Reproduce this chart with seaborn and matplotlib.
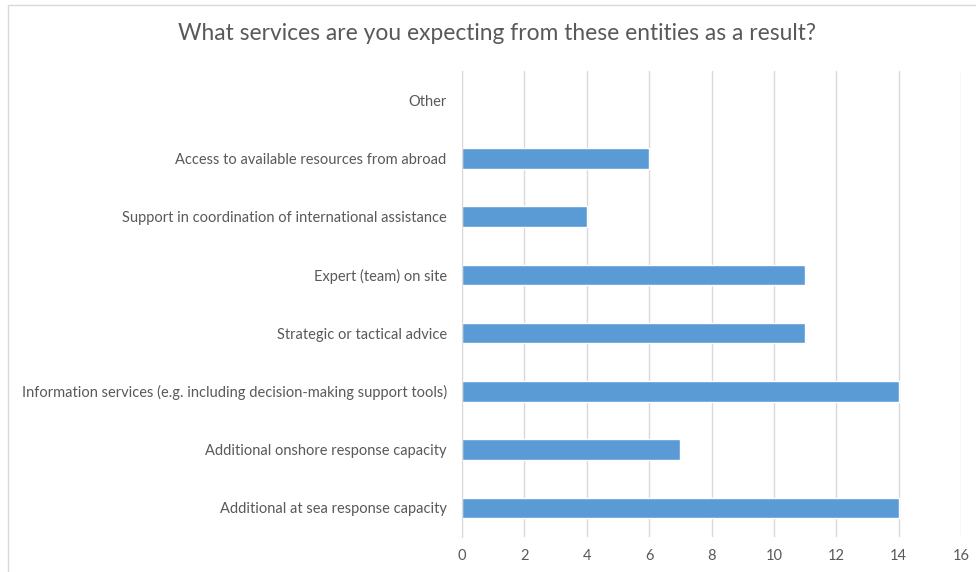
import pandas as pd
import seaborn as sns
import matplotlib.pyplot as plt
from matplotlib.patches import Rectangle

services = [
    "Other",
    "Access to available resources from abroad",
    "Support in coordination of international assistance",
    "Expert (team) on site",
    "Strategic or tactical advice",
    "Information services (e.g. including decision-making support tools)",
    "Additional onshore response capacity",
    "Additional at sea response capacity",
]
counts = [0, 6, 4, 11, 11, 14, 7, 14]

df = pd.DataFrame({"service": services, "count": counts})

sns.set_style("white")
plt.rcParams["font.family"] = ["Lato", "DejaVu Sans"]
text_color = "#595959"

fig = plt.figure(figsize=(9.76, 5.72), dpi=100)
ax = fig.add_axes([462 / 976, 1 - 537 / 572, (961 - 462) / 976, (537 - 71) / 572])

sns.barplot(data=df, x="count", y="service", order=services, color="#5b9bd5",
            width=0.35, saturation=1, ax=ax)

ax.set_xlim(0, 16)
ax.set_xticks(range(0, 17, 2))
ax.grid(axis="x", color="#d9d9d9", linewidth=1)
ax.set_axisbelow(True)
for s in ["top", "right", "bottom"]:
    ax.spines[s].set_visible(False)
ax.spines["left"].set_color("#d9d9d9")
ax.set_xlabel("")
ax.set_ylabel("")
ax.tick_params(axis="both", length=0, colors=text_color, labelsize=10.5)
ax.tick_params(axis="x", pad=9)
ax.tick_params(axis="y", pad=11)

fig.text(497 / 976, 1 - 34 / 572, "What services are you expecting from these entities as a result?",
         ha="center", va="center", fontsize=16.4, color=text_color)

# chart area border
fig.patches.append(Rectangle((8 / 976, -0.05), 1.1, 1 - 5 / 572 + 0.05,
                             transform=fig.transFigure, fill=False,
                             edgecolor="#d9d9d9", linewidth=1))

fig.savefig("out.png", dpi=100)
